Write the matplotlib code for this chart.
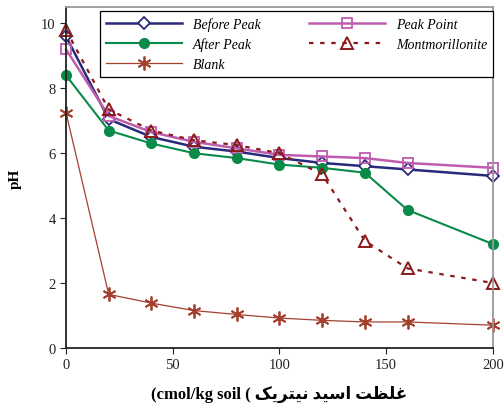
import numpy as np
import matplotlib
matplotlib.use("Agg")
import matplotlib.pyplot as plt

plt.rcParams['font.family'] = ['Liberation Serif', 'DejaVu Sans']

# acid concentration (cmol/kg soil)
conc = [0, 20, 40, 60, 80, 100, 120, 140, 160, 200]

before_peak = [9.6, 7.05, 6.5, 6.2, 6.05, 5.85, 5.7, 5.6, 5.5, 5.3]
peak_point = [9.2, 7.15, 6.65, 6.35, 6.15, 5.95, 5.9, 5.85, 5.7, 5.55]
after_peak = [8.4, 6.7, 6.3, 6.0, 5.85, 5.65, 5.55, 5.4, 4.25, 3.2]
montmor = [9.8, 7.35, 6.7, 6.4, 6.25, 6.0, 5.35, 3.3, 2.45, 2.0]
blank = [7.25, 1.65, 1.38, 1.15, 1.03, 0.92, 0.85, 0.8, 0.8, 0.7]

# persian label written in visual order with presentation forms
fa_label = ("\uFB8F\uFBFE\uFEAE\uFE98\uFBFF\uFEE7 "
            "\uFEAA\uFBFF\uFEB3\uFE8D "
            "\uFE96\uFEC8\uFEE0\uFECF")
xlabel = "(cmol/kg soil ( " + fa_label

fig = plt.figure(figsize=(5.04, 4.10), dpi=100)
ax = fig.add_axes([0.131, 0.149, 0.847, 0.831])

l1, = ax.plot(conc, before_peak, color='#2a2a7c', lw=1.8, marker='D', ms=6,
              mfc='white', mec='#2a2a7c', mew=1.3, label='Before Peak')
l4, = ax.plot(conc, peak_point, color='#c05cb0', lw=1.8, marker='s', ms=7.5,
              mfc='none', mec='#c05cb0', mew=1.3, label='Peak Point')
l2, = ax.plot(conc, after_peak, color='#0a8a48', lw=1.5, marker='o', ms=7,
              mfc='#0a8a48', mec='#0a8a48', label='After Peak')
l5, = ax.plot(conc, montmor, color='#8b1a1a', lw=1.6, ls=(0, (2, 3)),
              marker='^', ms=9, mfc='none', mec='#8b1a1a', mew=1.4,
              label='Montmorillonite')
l3, = ax.plot(conc, blank, color='#a3402e', lw=0.9, marker=(6, 2, 0), ms=10,
              mec='#a3402e', mew=1.3, label='Blank')
for ln in [l1, l2, l3, l4, l5]:
    ln.set_clip_on(False)

ax.set_xlim(0, 200)
ax.set_ylim(0, 10.5)
ax.set_xticks([0, 50, 100, 150, 200])
ax.set_yticks([0, 2, 4, 6, 8, 10])
ax.tick_params(direction='out', length=4, labelsize=10.5, colors='#222222',
               top=False, right=False)
for s in ['left', 'bottom']:
    ax.spines[s].set_color('#222222')
    ax.spines[s].set_linewidth(1.3)
for s in ['top', 'right']:
    ax.spines[s].set_color('#999999')
    ax.spines[s].set_linewidth(1.3)

ax.set_ylabel('pH', fontsize=11, fontweight='bold', labelpad=14)
ax.set_xlabel(xlabel, fontsize=12, fontweight='bold', labelpad=10,
              family=['Liberation Serif', 'DejaVu Sans'])

leg = ax.legend(handles=[l1, l2, l3, l4, l5], ncol=2, loc='upper left',
                bbox_to_anchor=(0.08, 0.792, 0.92, 0.196), mode='expand',
                fancybox=False, edgecolor='black', framealpha=1,
                prop={'style': 'italic', 'size': 10}, handlelength=5.5,
                borderaxespad=0, labelspacing=0.5, columnspacing=1.0)
leg.get_frame().set_linewidth(0.9)
leg.set_zorder(5)

fig.savefig('out.png', dpi=100)
